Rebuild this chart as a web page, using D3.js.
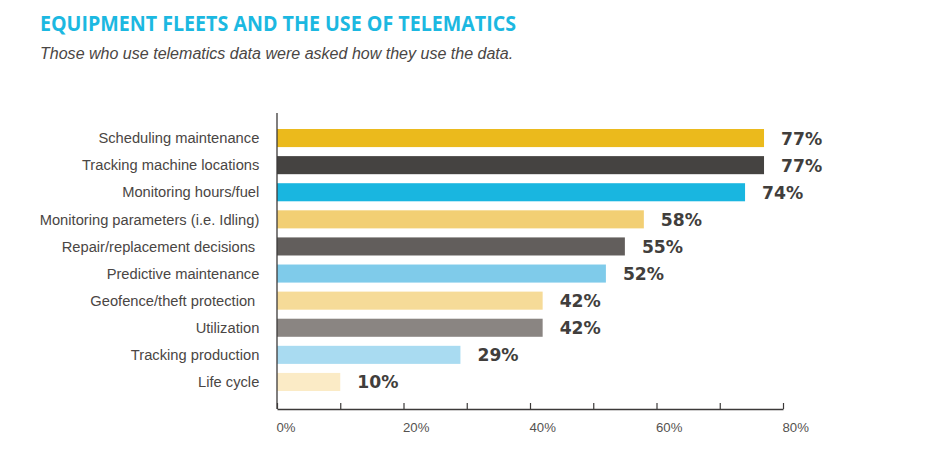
<!DOCTYPE html>
<html><head><meta charset="utf-8">
<script src="https://cdn.jsdelivr.net/npm/d3@7"></script>
<style>
html,body{margin:0;padding:0;background:#fff}
svg{display:block}
text{white-space:pre}
</style></head><body>
<svg id="c" width="934" height="451"></svg>
<script>
const categories=["Scheduling maintenance","Tracking machine locations","Monitoring hours/fuel","Monitoring parameters (i.e. Idling)","Repair/replacement decisions ","Predictive maintenance","Geofence/theft protection ","Utilization","Tracking production","Life cycle"];
const values=[77,77,74,58,55,52,42,42,29,10];
const colors=["#ebba1c","#454341","#19b6e0","#f2cf74","#625e5c","#7fcbea","#f6db98","#8a8582","#a9dbf1","#fbebc6"];
const xTicks=[0,10,20,30,40,50,60,70,80];
const title="EQUIPMENT FLEETS AND THE USE OF TELEMATICS";
const subtitle="Those who use telematics data were asked how they use the data.";

const svg=d3.select("#c");
const x=d3.scaleLinear().domain([0,80]).range([277,783]);
const y=d3.scaleBand().domain(categories).range([124.5,395.5]).paddingInner(1/3).paddingOuter(1/6);
const sans="'Liberation Sans',Arial,sans-serif";

svg.append("text").attr("x",40).attr("y",31).attr("fill","#1cb8e1")
  .attr("font-family","'Open Sans',sans-serif").attr("font-weight",700).attr("font-size",21.5)
  .attr("textLength",476).attr("lengthAdjust","spacingAndGlyphs").text(title);
svg.append("text").attr("x",40).attr("y",59).attr("fill","#4a4644")
  .attr("font-family",sans).attr("font-style","italic").attr("font-size",16.05).text(subtitle);

svg.selectAll("rect.bar").data(categories).join("rect").attr("class","bar")
  .attr("x",x(0)).attr("y",d=>y(d)).attr("height",y.bandwidth())
  .attr("width",(d,i)=>x(values[i])-x(0)).attr("fill",(d,i)=>colors[i]);

svg.selectAll("text.val").data(categories).join("text").attr("class","val")
  .attr("x",(d,i)=>x(values[i])+17).attr("y",d=>y(d)+y.bandwidth()/2+6.5)
  .attr("font-family","'DejaVu Sans',sans-serif").attr("font-weight",700).attr("font-size",17.2)
  .attr("fill","#413e3c")
  .text((d,i)=>values[i]+"%");

const yAxis=svg.append("g").attr("transform",`translate(${x(0)},0.5)`)
  .call(d3.axisLeft(y).tickSize(0).tickPadding(17.7));
yAxis.select(".domain").remove();
yAxis.selectAll("text").attr("font-family",sans).attr("font-size",14.7).attr("fill","#4a4644");

svg.append("line").attr("x1",x(0)).attr("x2",x(0)).attr("y1",113).attr("y2",409)
  .attr("stroke","#3c3a39").attr("stroke-width",1.3);

const xAxis=svg.append("g").attr("transform","translate(0,409)")
  .call(d3.axisBottom(x).tickValues(xTicks).tickSizeInner(-6).tickSizeOuter(0).tickPadding(13.5)
    .tickFormat(d=>d%20===0?d+"%":""));
xAxis.select(".domain").attr("stroke","#3c3a39").attr("stroke-width",1.3);
xAxis.selectAll("line").attr("stroke","#3c3a39").attr("stroke-width",1.2);
xAxis.selectAll("text").attr("font-family",sans).attr("font-size",13.2).attr("fill","#555250").attr("text-anchor","start").attr("dx",-1);
</script>
</body></html>
